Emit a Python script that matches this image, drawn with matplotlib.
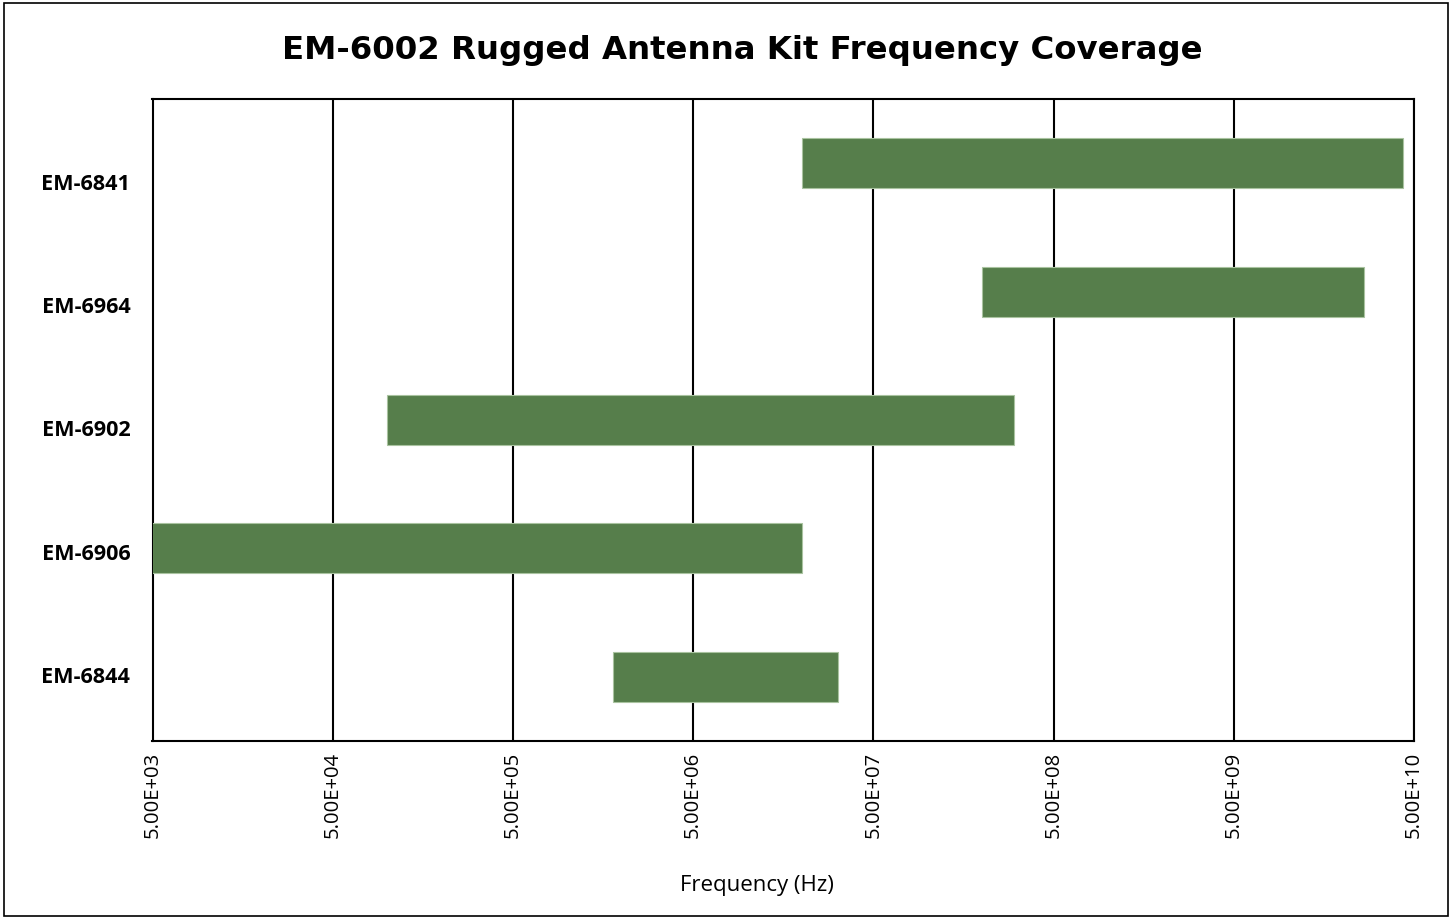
import matplotlib.pyplot as plt
import matplotlib.ticker as mticker
from matplotlib.patches import Rectangle

models = ['EM-6841', 'EM-6964', 'EM-6902', 'EM-6906', 'EM-6844']
f_low = [2.0e7, 2.0e8, 1.0e5, 5.0e3, 1.8e6]
f_high = [4.35e10, 2.65e10, 3.0e8, 2.0e7, 3.2e7]
ticks = [5e3, 5e4, 5e5, 5e6, 5e7, 5e8, 5e9, 5e10]

fig = plt.figure(figsize=(14.54, 9.19), dpi=100)
ax = fig.add_axes([152.5 / 1454, 1 - 741 / 919, (1414 - 152.5) / 1454, (741 - 99) / 919])

ypos = list(range(len(models)))
widths = [h - l for l, h in zip(f_low, f_high)]
ax.barh(ypos, widths, left=f_low, height=0.39, color='#567e4b',
        edgecolor='#a9c3a0', linewidth=0.8, zorder=3)

ax.set_xscale('log')
ax.set_xlim(ticks[0], ticks[-1])
ax.set_ylim(len(models) - 0.5, -0.5)
# category labels sit a little off the bar centres, like the original
ax.set_yticks([0.146 + 0.96 * i for i in ypos])
ax.set_yticklabels(models)
ax.xaxis.set_major_locator(mticker.FixedLocator(ticks))
ax.xaxis.set_minor_locator(mticker.NullLocator())
ax.xaxis.set_major_formatter(mticker.FuncFormatter(lambda v, p: '%.2E' % v))
ax.grid(axis='x', color='black', linewidth=1.5, zorder=1)
ax.tick_params(axis='x', length=0, pad=8, labelsize=14.6, labelrotation=90)
ax.tick_params(axis='y', length=0, pad=16)
for lab in ax.get_xticklabels():
    lab.set_family('Open Sans')
for lab in ax.get_yticklabels():
    lab.set_family('Open Sans')
    lab.set_fontweight('bold')
    lab.set_fontsize(15.6)
for s in ax.spines.values():
    s.set_linewidth(1.5)
    s.set_color('black')

ax.set_xlabel('Frequency (Hz)', family='Open Sans', fontsize=16)
ax.xaxis.set_label_coords((757 - 152.5) / (1414 - 152.5), -(886 - 741) / (741 - 99), transform=ax.transAxes)
ax.xaxis.label.set_va('center')
fig.text(742 / 1454, 1 - 50 / 919, 'EM-6002 Rugged Antenna Kit Frequency Coverage',
         ha='center', va='center', fontsize=23.3, fontweight='bold', family='DejaVu Sans')

fig.patches.append(Rectangle((4 / 1454, 3 / 919), 1444 / 1454, 913 / 919, transform=fig.transFigure,
                             fill=False, edgecolor='black', linewidth=1.2))

fig.savefig('out.png', dpi=100)
